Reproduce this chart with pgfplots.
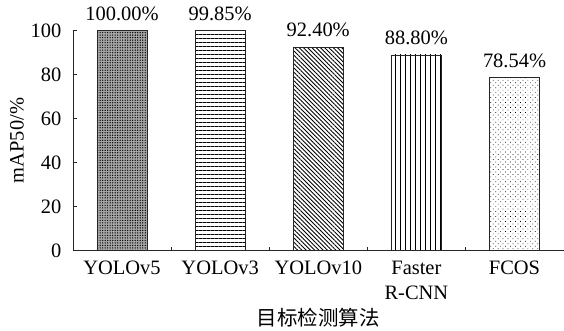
\documentclass[border=0pt]{standalone}
\usepackage{pgfplots}
\pgfplotsset{compat=1.18}
\usepackage{fontspec}
\setmainfont{Liberation Serif}
\newfontfamily\cjk{Noto Sans CJK SC}
\usetikzlibrary{patterns,patterns.meta}
\newcommand{\fs}{\fontsize{20.5}{25}\selectfont}
\begin{document}
\begin{tikzpicture}
\begin{axis}[
  scale only axis, width=490bp, height=220bp,
  xmin=-0.5, xmax=4.5, ymin=0, ymax=100,
  axis x line*=bottom, axis y line*=left,
  axis line style={-, black!85, line width=0.8pt},
  ybar, bar width=50bp, bar shift=0pt,
  xtick={0.5,1.5,2.5,3.5}, xticklabels={},
  extra x ticks={0,1,2,3,4},
  extra x tick labels={YOLOv5,YOLOv3,YOLOv10,{Faster\\R-CNN},FCOS},
  extra x tick style={major tick length=0pt, tick label style={align=center, font=\fs, yshift=-7bp}},
  ytick={0,20,40,60,80,100},
  tick align=inside,
  tick style={black!85, line width=0.8pt},
  major tick length=4bp,
  yticklabel style={font=\fs, xshift=-8bp},
  /pgf/number format/assume math mode=true,
  ylabel={mAP50/\%},
  ylabel style={font=\fs, at={(axis description cs:-0.149,0.5)}, anchor=north, inner xsep=0pt, inner ysep=10bp},
  xlabel={\cjk 目标检测算法},
  xlabel style={font=\fs, at={(axis description cs:0.5,0)}, yshift=-67bp, anchor=center},
  clip=false,
  point meta=y,
  nodes near coords={\pgfmathprintnumber[fixed,fixed zerofill,precision=2]{\pgfplotspointmeta}\%},
  every node near coord/.append style={font=\fs, black, inner ysep=6.5bp, yshift=3bp},
]
\addplot[draw=black!85, line width=0.8pt, fill=gray!70, postaction={pattern={Dots[distance=2.5bp, radius=0.7bp]}, pattern color=black}] coordinates {(0,100.00)};
\addplot[draw=black!85, line width=0.8pt, pattern={Lines[angle=0, distance=4bp, line width=0.7bp]}, pattern color=black] coordinates {(1,99.85)};
\addplot[draw=black!85, line width=0.8pt, pattern={Lines[angle=-45, distance=3bp, line width=0.9bp]}, pattern color=black] coordinates {(2,92.40)};
\addplot[draw=black!85, line width=0.8pt, pattern={Lines[angle=90, distance=5bp, line width=0.7bp]}, pattern color=black] coordinates {(3,88.80)};
\addplot[draw=black!85, line width=0.8pt, pattern={Dots[angle=45, distance=3.5bp, radius=0.5bp]}, pattern color=black] coordinates {(4,78.54)};
\end{axis}
\end{tikzpicture}
\end{document}
